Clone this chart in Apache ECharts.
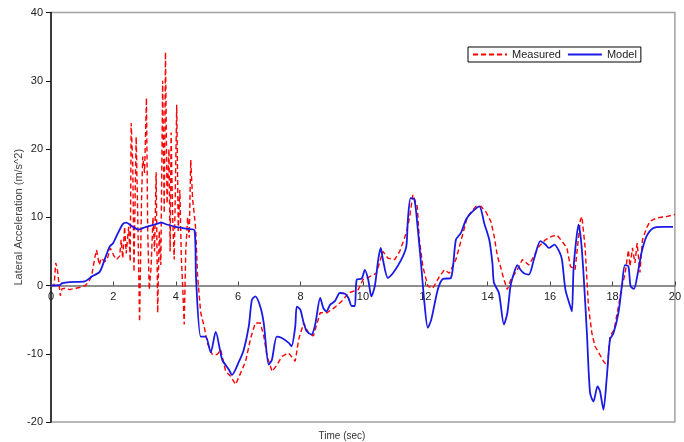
<!DOCTYPE html>
<html><head><meta charset="utf-8">
<script src="https://cdn.jsdelivr.net/npm/echarts@6/dist/echarts.min.js"></script>
<style>html,body{margin:0;padding:0;background:#fff}#c{width:684px;height:442px}</style>
</head><body><div id="c"></div>
<script>
const seriesNames = ["Measured", "Model"];
const xTicks = [0,2,4,6,8,10,12,14,16,18,20];
const yTicks = [-20,-10,0,10,20,30,40];
const measT = [0,0.1,0.15,0.2,0.23,0.3,0.35,0.45,0.6,0.8,1.0,1.1,1.2,1.3,1.4,1.46,1.55,1.61,1.72,1.8,1.9,2.0,2.04,2.1,2.2,2.25,2.3,2.36,2.41,2.49,2.54,2.57,2.62,2.66,2.7,2.73,2.78,2.84,2.9,2.94,3.0,3.06,3.1,3.15,3.21,3.27,3.32,3.37,3.42,3.47,3.52,3.58,3.63,3.67,3.72,3.78,3.82,3.85,3.9,3.95,4.0,4.03,4.08,4.13,4.18,4.22,4.27,4.32,4.38,4.43,4.48,4.54,4.59,4.64,4.7,4.8,4.91,5.01,5.17,5.33,5.44,5.6,5.76,5.92,6.08,6.24,6.4,6.55,6.71,6.82,6.93,7.09,7.25,7.4,7.62,7.83,7.94,8.1,8.26,8.41,8.63,8.84,9.1,9.37,9.53,9.85,10.0,10.22,10.43,10.64,10.8,11.02,11.18,11.39,11.5,11.6,11.74,11.81,11.92,12.08,12.24,12.45,12.61,12.77,12.98,13.14,13.35,13.62,13.78,13.94,14.1,14.2,14.31,14.42,14.52,14.63,14.74,14.95,15.11,15.32,15.48,15.64,15.85,16.06,16.22,16.38,16.54,16.65,16.8,16.97,17.02,17.12,17.23,17.34,17.44,17.53,17.71,17.84,17.92,18.05,18.19,18.3,18.4,18.51,18.56,18.64,18.72,18.79,18.88,18.96,19.09,19.2,19.41,19.73,20];
const measV = [0,0,3.3,2.5,1.3,-1.5,-0.5,-0.4,-0.6,-0.4,-0.2,0,0.5,1.3,4,5.2,3,4,3.5,3.8,5.5,4.5,4.7,3.8,4.3,6.7,4,8.6,4.7,8.6,3.5,23.8,18,2,14,21.8,10.6,-5.3,12,18.9,16.5,27.5,8,-0.6,2.8,10,5,16.6,-4,8,3,30,10.6,34.2,12,20,5,22.4,10,3.8,18,26.5,8,14,3.8,0,-5.7,5,10,7,18.4,12.6,10.6,8.2,1.3,-4,-6,-8.4,-10.1,-10.1,-9.4,-12.6,-13.3,-14.5,-12.8,-11.1,-7.7,-5.5,-5.5,-7.4,-10.4,-12.6,-11.6,-10.4,-9.9,-11.1,-7.9,-5.5,-7,-7.4,-4,-4,-3.2,-2.1,-1.1,-0.6,0.85,1.3,1.8,5,4,3.8,5,7.7,10.1,13.3,11.6,6.7,2.8,-0.1,-0.4,1.3,2.3,1.8,3.8,6.5,10.1,11.6,11.6,10.8,9.4,7.4,4.3,2.6,0.85,-0.6,0.85,2.3,3.8,3,4.3,5.7,6.7,7.2,7.4,6.5,5.5,2.8,2.3,9.6,10.1,5.7,-3.1,-7,-8.9,-9.6,-11.1,-11.8,-7.4,-6.5,-3.1,-0.1,1.6,5.2,2.8,5.5,3.3,6.2,1.9,6.7,8.4,9.4,9.9,10.1,10.4];
const modelT = [0,0.3,0.34,0.6,1.08,1.3,1.56,1.72,1.88,1.99,2.15,2.3,2.41,2.62,2.81,3.05,3.37,3.53,3.74,4.0,4.38,4.6,4.65,4.8,4.96,5.12,5.28,5.49,5.7,5.8,6.02,6.18,6.34,6.44,6.55,6.71,6.82,6.98,7.08,7.24,7.4,7.62,7.71,7.83,7.88,7.99,8.1,8.2,8.35,8.47,8.63,8.73,8.83,8.95,9.1,9.26,9.42,9.53,9.64,9.74,9.8,9.96,10.06,10.17,10.27,10.38,10.49,10.57,10.64,10.8,10.96,11.23,11.39,11.44,11.53,11.65,11.76,11.87,11.97,12.08,12.19,12.4,12.56,12.82,12.98,13.14,13.3,13.46,13.73,13.89,14.05,14.15,14.2,14.36,14.52,14.63,14.73,14.84,14.95,15.05,15.16,15.32,15.48,15.69,15.85,15.96,16.14,16.28,16.38,16.49,16.65,16.7,16.75,16.81,16.91,16.99,17.07,17.18,17.28,17.39,17.52,17.6,17.71,17.82,17.92,18.03,18.19,18.3,18.4,18.51,18.58,18.69,18.79,18.93,19.09,19.3,19.62,19.94];
const modelV = [0,0.1,0.3,0.5,0.6,1.3,2,3.8,5.7,6.2,7.7,9,9.2,8.6,8.2,8.6,9,9.2,8.9,8.6,8.3,8.1,1,-7.5,-7.5,-9.8,-6.8,-10.9,-12.3,-13.1,-11.2,-9.4,-6,-2.1,-1.6,-3.1,-5.5,-11.6,-10.9,-7.5,-7.7,-8.4,-8.9,-6,-3.1,-3.5,-5.5,-6.7,-7.2,-5.7,-1.8,-3.3,-3.8,-2.8,-2.3,-1.1,-1.2,-1.8,-3,-3,0.85,1,2.3,0.85,-1.6,-0.1,3.8,5.5,3.8,1.1,1.8,3.8,5.7,9.6,12.8,12.6,8.2,2.8,-2.5,-6.2,-5,-0.6,0.95,1.1,6.7,7.7,9.6,10.6,11.6,9.1,6.7,3.3,0.4,-1.1,-5.7,-4,-0.1,1.8,3,2.3,1.8,1.6,3.8,6.5,6,5.5,6,5.1,3.8,-0.6,-3.1,-3.8,2.3,5.5,8.9,6.7,1.8,-7,-15.7,-17,-14.8,-15.5,-18.2,-13.3,-7.9,-7,-4,-0.1,3,2.8,-0.1,-0.5,1.3,4.8,7.2,8.4,8.6,8.6];

const zip = (a, b) => a.map((t, i) => [t, b[i]]);
const font = '"Liberation Sans", Arial, sans-serif';
const gridTop = 12.5, gridBottom = 20, H = 442;
const plotH = H - gridTop - gridBottom;
const zeroOffset = -plotH * (0 - yTicks[0]) / (yTicks[yTicks.length - 1] - yTicks[0]);
const chart = echarts.init(document.getElementById('c'), null, {renderer: 'canvas'});
chart.setOption({
  animation: false,
  backgroundColor: '#fff',
  grid: {left: 51, right: 5, top: gridTop, bottom: gridBottom, show: true, borderColor: '#a0a0a0', borderWidth: 1.5, backgroundColor: 'transparent'},
  legend: {
    left: 468, top: 47, orient: 'horizontal',
    data: seriesNames,
    itemWidth: 34, itemHeight: 10, itemGap: 6,
    padding: [2, 4, 2, 4],
    borderColor: '#000', borderWidth: 1, backgroundColor: '#fff',
    itemStyle: {opacity: 0},
    textStyle: {fontFamily: font, fontSize: 11, color: '#222'}
  },
  xAxis: {
    type: 'value', min: xTicks[0], max: xTicks[xTicks.length - 1], interval: 2,
    position: 'bottom', offset: zeroOffset,
    axisLine: {onZero: false, lineStyle: {color: '#6a6a6a', width: 1.5}},
    axisTick: {inside: true, length: 4, lineStyle: {color: '#444'}},
    axisLabel: {margin: 6, fontFamily: font, fontSize: 11, color: '#222'},
    splitLine: {show: false}
  },
  yAxis: {
    type: 'value', min: yTicks[0], max: yTicks[yTicks.length - 1], interval: 10,
    name: 'Lateral Acceleration (m/s^2)', nameLocation: 'middle', nameGap: 27, nameRotate: 90,
    nameMoveOverlap: false,
    nameTextStyle: {fontFamily: font, fontSize: 11, color: '#444'},
    axisLine: {onZero: false, lineStyle: {color: '#111', width: 1.5}},
    axisTick: {inside: false, length: 5, lineStyle: {color: '#111'}},
    axisLabel: {margin: 8, fontFamily: font, fontSize: 11, color: '#222'},
    splitLine: {show: false}
  },
  graphic: [{type: 'text', left: 'center', top: 431, style: {text: 'Time (sec)', font: '10px ' + font, fill: '#333'}}],
  series: [
    {name: seriesNames[0], type: 'line', data: zip(measT, measV), showSymbol: false, symbol: 'none',
     lineStyle: {color: '#ff0000', width: 1.4, type: [5, 3]}, itemStyle: {color: '#ff0000'}, z: 2},
    {name: seriesNames[1], type: 'line', data: zip(modelT, modelV), showSymbol: false, symbol: 'none', smooth: 0.25,
     lineStyle: {color: '#1a1ae6', width: 1.8}, itemStyle: {color: '#1a1ae6'}, z: 3}
  ]
});
</script></body></html>
